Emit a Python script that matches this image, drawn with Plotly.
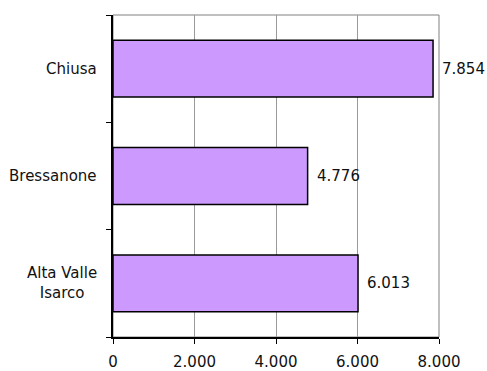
import plotly.graph_objects as go

categories = ["Alta Valle<br>Isarco", "Bressanone", "Chiusa"]
values = [6013, 4776, 7854]
x_ticks = [0, 2000, 4000, 6000, 8000]

FONT = "DejaVu Sans"
FS = 15

fig = go.Figure()
fig.add_trace(go.Bar(
    y=categories, x=values, orientation="h",
    marker=dict(color="#CC99FF", line=dict(color="#000000", width=1.5)),
    hoverinfo="skip",
))

annotations = []
for c, v in zip(categories, values):
    annotations.append(dict(
        x=v, y=c, xref="x", yref="y", text=f"{v:,}".replace(",", "."),
        showarrow=False, xanchor="left", yanchor="middle", xshift=7,
        font=dict(family=FONT, size=FS, color="#111111"),
    ))
    annotations.append(dict(
        x=0, y=c, xref="paper", yref="y", text=c,
        showarrow=False, xanchor="right", yanchor="middle", xshift=-14,
        align="center",
        font=dict(family=FONT, size=FS, color="#111111"),
    ))

fig.update_layout(
    width=487, height=371,
    margin=dict(l=113, r=48, t=15, b=34),
    paper_bgcolor="white", plot_bgcolor="white",
    separators=",.",
    showlegend=False,
    bargap=0.47,
    font=dict(family=FONT, size=FS, color="#111111"),
    xaxis=dict(
        range=[0, 8000], tickvals=x_ticks, tickformat=",d",
        showgrid=True, gridcolor="#9A9A9A", gridwidth=1,
        zeroline=False, showline=True, linecolor="#000000", linewidth=1.5,
        ticks="outside", ticklen=5, tickcolor="#000000", tickwidth=1,
        ticklabelstandoff=5,
        automargin=False, fixedrange=True,
    ),
    yaxis=dict(
        showticklabels=False, tickson="boundaries", ticks="outside",
        ticklen=5, tickcolor="#000000", tickwidth=1,
        showline=True, linecolor="#000000", linewidth=1.5,
        showgrid=False, zeroline=False, automargin=False, fixedrange=True,
    ),
    shapes=[dict(type="rect", xref="paper", yref="paper", x0=0, x1=1, y0=0, y1=1,
                 line=dict(color="#808080", width=1), layer="below")],
    annotations=annotations,
)

fig.write_html("out.html")
